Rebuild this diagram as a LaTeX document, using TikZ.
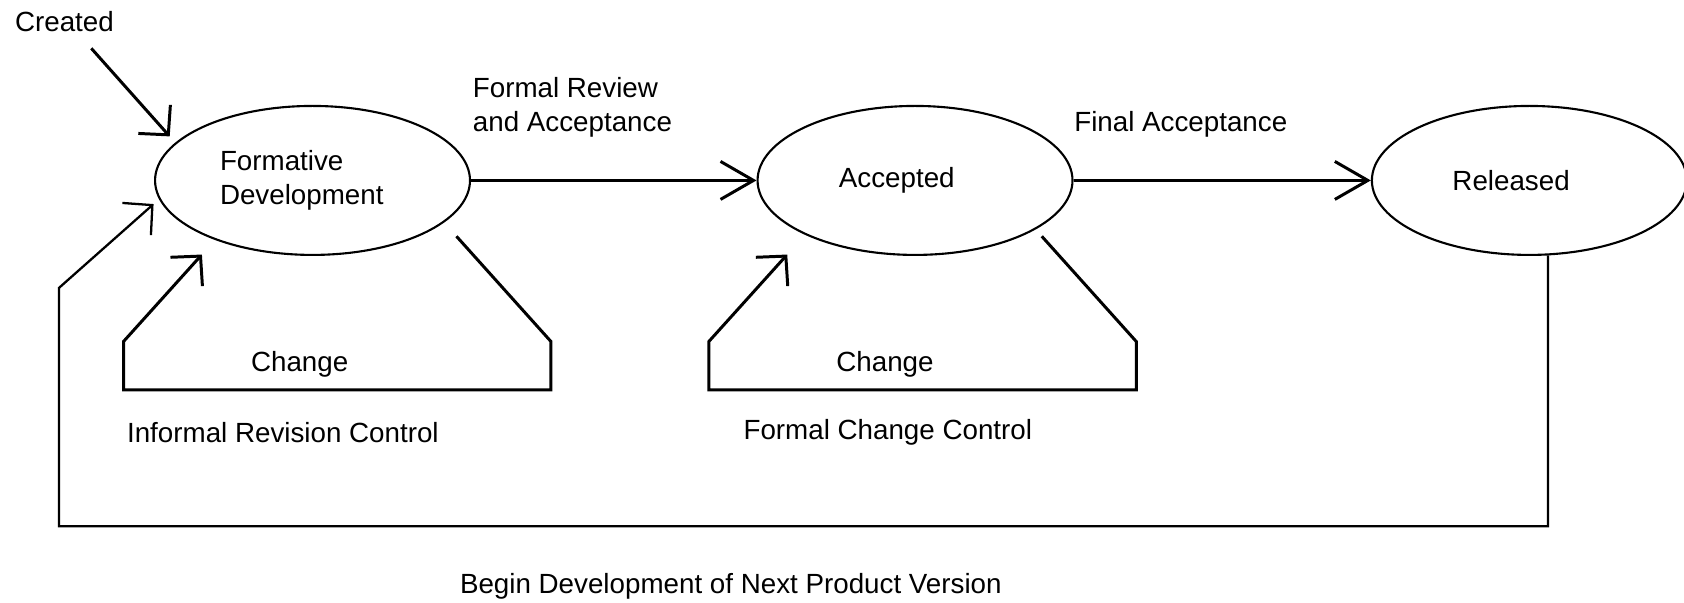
\documentclass[tikz,border=0pt]{standalone}
\usepackage{fontspec}
\setmainfont{Liberation Sans}
\usetikzlibrary{arrows.meta,shapes.geometric}

\begin{document}
\begin{tikzpicture}[x=0.02148cm,y=-0.02148cm,
        state/.style={draw,ellipse,line width=1.2pt,minimum width=6.3cm,minimum height=2.98cm,
            inner sep=0pt,align=left,font=\fontsize{15.8}{19}\selectfont},
        lbl/.style={inner sep=0pt,align=left,font=\fontsize{15.8}{19}\selectfont},
        fwd/.style={line width=1.7pt,-{Straight Barb[length=0.66cm,width=0.76cm]}},
        chg/.style={line width=1.7pt,-{Straight Barb[length=0.42cm,width=0.86cm]}}]
        \useasboundingbox (0,0) rectangle (1568,561.4);

        % Draw states
        \node[state] (fd) at (291,168) {Formative\\Development\hspace*{0.43cm}};
        \node[state] (acc) at (852,168) {Accepted\hspace*{0.73cm}};
        \node[state] (rel) at (1424,168) {Released\hspace*{0.73cm}};

        \node[lbl] (created) at (60,20) {Created};
        \coordinate (cr_s) at (85,45);
        \coordinate (cr_e) at (158,127);
        \draw [chg] (cr_s) -- (cr_e);

        % forward transitions
        \draw [fwd] (fd) -- (acc);
        \draw [fwd] (acc) -- (rel);
        \node[lbl,anchor=west] (frev) at (440,100) {Formal Review\\and Acceptance};
        \node[lbl,anchor=west] (facc) at (1000,116) {Final Acceptance};

        % change loops
        \foreach \x/\n in {0/1,545/2}
           {
                \coordinate (ls_\n) at (425+\x,220);
                \coordinate (le_\n) at (188+\x,237);
                \draw [chg] (ls_\n) -- ++(88,98) -- ++(0,45) -- ++(-398,0) -- ++(0,-45) -- (le_\n);
                \node[lbl] (chg_\n) at (279+\x,339) {Change};
           }
        \node[lbl,anchor=west] (irc) at (118,403) {Informal Revision Control};
        \node[lbl,anchor=west] (fcc) at (692,403) {Formal Change Control};

        % back to development
        \coordinate (fb_c) at (55,490);
        \coordinate (fb_e) at (143,190);
        \draw [chg,line width=1.3pt] (rel.-76) |- (fb_c) -- ++(0,-222) -- (fb_e);
        \node[lbl,anchor=west] (next) at (428,546) {Begin Development of Next Product Version};
    \end{tikzpicture}
\end{document}
